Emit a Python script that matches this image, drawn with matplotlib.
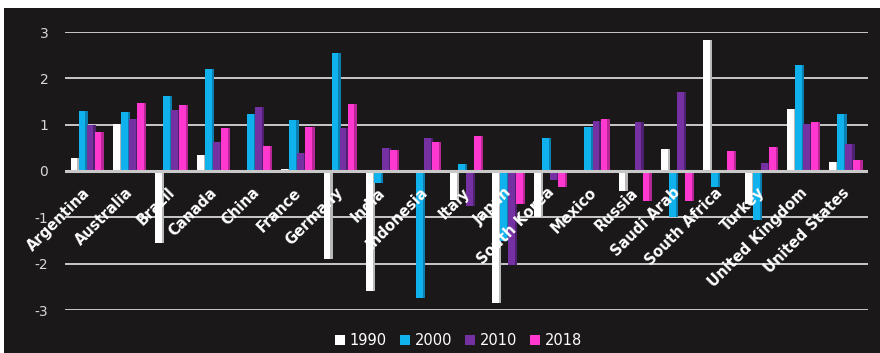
import matplotlib.pyplot as plt
import numpy as np
from matplotlib.patches import Rectangle

countries = ["Argentina", "Australia", "Brazil", "Canada", "China", "France",
             "Germany", "India", "Indonesia", "Italy", "Japan", "South Korea",
             "Mexico", "Russia", "Saudi Arab", "South Africa", "Turkey",
             "United Kingdom", "United States"]

years = ["1990", "2000", "2010", "2018"]

v1990 = [0.27, 1.01, -1.55, 0.35, 0.02, 0.05, -1.91, -2.60, -0.05, -0.62,
         -2.84, -0.99, 0.03, -0.44, 0.48, 2.83, -0.72, 1.33, 0.19]
v2000 = [1.29, 1.27, 1.61, 2.21, 1.23, 1.11, 2.54, -0.26, -2.75, 0.16,
         -1.51, 0.71, 0.96, 0.03, -1.00, -0.35, -1.05, 2.28, 1.23]
v2010 = [0.99, 1.12, 1.31, 0.62, 1.39, 0.39, 0.93, 0.49, 0.71, -0.75,
         -2.03, -0.19, 1.07, 1.05, 1.71, -0.03, 0.17, 1.01, 0.58]
v2018 = [0.84, 1.46, 1.42, 0.92, 0.53, 0.95, 1.44, 0.45, 0.62, 0.76,
         -0.71, -0.35, 1.13, -0.65, -0.64, 0.43, 0.52, 1.05, 0.24]

colors = ["#ffffff", "#10b2ee", "#7530a2", "#ff38d0"]
side_colors = ["#b8b8b8", "#0a7fb0", "#4f1f70", "#b82696"]
bg = "#1a1818"

fig = plt.figure(figsize=(8.8, 3.53), dpi=100)
fig.patch.set_facecolor("white")
# black panel with thin white strip on top and left
fig.patches.append(Rectangle((4 / 880, 0), 1, 345 / 353, transform=fig.transFigure,
                             facecolor=bg, edgecolor="none", zorder=-1))

ax = fig.add_axes([65 / 880, 43 / 353, 803 / 880, 278 / 353])
ax.set_zorder(2)
ax.set_facecolor("none")

x = np.arange(len(countries))
w = 0.19
series = [v1990, v2000, v2010, v2018]
for i, vals in enumerate(series):
    pos = x + (i - 1.5) * w
    # fake depth face
    ax.bar(pos + 0.04, vals, width=w, color=side_colors[i], zorder=2, linewidth=0)
    ax.bar(pos, vals, width=w * 0.85, color=colors[i], zorder=3, linewidth=0,
           label=years[i])

for yv in range(-3, 4):
    ax.axhline(yv, color="#c8c8c8", lw=1.4, zorder=1)
ax.axhline(0, color="#c8c8c8", lw=2.2, zorder=4)

ax.set_xlim(-0.5, 18.55)
ax.set_ylim(-3, 3)
ax.set_yticks(range(-3, 4))
ax.set_yticklabels([str(v) for v in range(-3, 4)], color="#d8d8d8", fontsize=10)
ax.tick_params(axis="y", length=0, pad=12)
ax.set_xticks([])
for s in ax.spines.values():
    s.set_visible(False)

for xi, name in zip(x, countries):
    ax.text(xi - 0.08, -0.3, name, rotation=45, ha="right", va="top",
            rotation_mode="anchor", color="white", fontsize=10.5,
            fontweight="bold", zorder=5)

leg = ax.legend(loc="upper center", bbox_to_anchor=(0.49, -0.035), ncol=4,
                frameon=False, fontsize=10.5, handlelength=0.7, handleheight=0.7,
                columnspacing=0.9, handletextpad=0.3, labelcolor="white")

fig.savefig("out.png", dpi=100, facecolor=fig.get_facecolor())
